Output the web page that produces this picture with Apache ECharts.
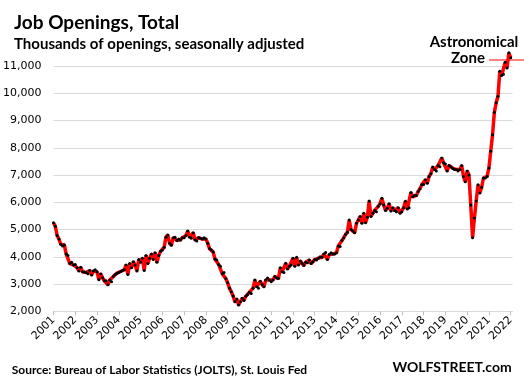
<!DOCTYPE html>
<html><head><meta charset="utf-8">
<script src="https://cdn.jsdelivr.net/npm/echarts@6/dist/echarts.min.js"></script>
<style>html,body{margin:0;padding:0;background:#fff}#c{width:524px;height:391px}</style>
</head><body><div id="c"></div>
<script>
// Tick labels (years)
const years = ['2001','2002','2003','2004','2005','2006','2007','2008','2009','2010','2011',
  '2012','2013','2014','2015','2016','2017','2018','2019','2020','2021','2022'];

// Job openings, thousands, monthly, seasonally adjusted
const openings2001_2004 = [
  5250, 5120, 4780, 4650, 4460, 4400, 4430, 4100, 4050, 3750, 3800, 3700,
  3720, 3600, 3480, 3620, 3450, 3440, 3420, 3380, 3500, 3330, 3480, 3520,
  3450, 3160, 3380, 3230, 3120, 3120, 2970, 3150, 3080, 3280, 3350, 3400,
  3420, 3460, 3500, 3520, 3700, 3350, 3750, 3600, 3820, 3700, 3480, 3900
];
const openings2005_2008 = [
  3800, 3950, 3500, 4050, 3750, 3950, 4100, 3900, 4150, 3800, 4050, 4200,
  4250, 4350, 4720, 4800, 4500, 4420, 4700, 4720, 4600, 4650, 4620, 4700,
  4700, 4780, 4950, 4720, 4680, 4880, 4620, 4580, 4700, 4680, 4650, 4700,
  4650, 4500, 4300, 4250, 4180, 3920, 3880, 3720, 3650, 3380, 3420, 3200
];
const openings2009_2012 = [
  3050, 2850, 2720, 2560, 2350, 2450, 2230, 2350, 2480, 2400, 2550, 2620,
  2700, 2650, 2850, 3150, 2900, 2850, 3100, 2980, 2900, 3150, 3220, 3150,
  3080, 3150, 3280, 3220, 3200, 3600, 3450, 3420, 3760, 3550, 3650, 3700,
  3950, 3650, 3980, 3700, 3850, 3760, 3680, 3800, 3780, 3880, 3750, 3820
];
const openings2013_2016 = [
  3900, 3880, 3950, 4000, 3980, 4100, 4160, 3900, 4080, 4150, 4100, 4100,
  4150, 4400, 4380, 4600, 4700, 4820, 4900, 5350, 5000, 4950, 4880, 5230,
  5350, 5480, 5230, 5600, 5250, 5450, 6050, 5480, 5600, 5700, 5650, 5850,
  5950, 6150, 5900, 5700, 5780, 5950, 5680, 5800, 5700, 5650, 5800, 5600
];
const openings2017_2022 = [
  5650, 5800, 6040, 5750, 5800, 6360, 6200, 6250, 6250, 6400, 6500, 6640,
  6650, 6830, 6700, 6950, 7050, 7290, 7200, 7150, 7350, 7300, 7625, 7450,
  7400, 7150, 7350, 7300, 7250, 7200, 7200, 7150, 7200, 7350, 6950, 6750,
  7150, 7000, 5900, 4700, 5420, 6050, 6640, 6340, 6550, 6890, 6890, 6950,
  7260, 7870, 8480, 9300, 9650, 9890, 10810, 10650, 10700, 11140, 10930, 11485,
  11300
];
const yTicks = [2000, 11000, 1000]; // min, max, step

const values = openings2001_2004.concat(openings2005_2008, openings2009_2012, openings2013_2016, openings2017_2022);
const categories = [];
years.forEach(y => { for (let m = 1; m <= 12; m++) categories.push(y + '-' + (m < 10 ? '0' + m : m)); });
categories.length = values.length + 1; // axis runs one month past the last value

const FONT = 'DejaVu Sans';
const TFONT = 'Lato';
const chart = echarts.init(document.getElementById('c'), null, {renderer: 'canvas'});
chart.setOption({
  animation: false,
  backgroundColor: '#ffffff',
  grid: {left: 52.3, right: 11.5, top: 66, bottom: 79.7, containLabel: false},
  xAxis: {
    type: 'category', data: categories, boundaryGap: false,
    axisLine: {lineStyle: {color: '#d9d9d9', width: 1}},
    axisTick: {interval: i => i % 12 === 0, length: 4, lineStyle: {color: '#bfbfbf'}},
    axisLabel: {interval: i => i % 12 === 0, rotate: 45, margin: 7, color: '#000',
      fontFamily: FONT, fontSize: 11, formatter: v => v.slice(0, 4)},
    splitLine: {show: false}
  },
  yAxis: {
    type: 'value', min: yTicks[0], max: yTicks[1], interval: yTicks[2],
    axisLine: {show: false}, axisTick: {show: false},
    splitLine: {lineStyle: {color: '#d9d9d9', width: 1}},
    axisLabel: {margin: 12, color: '#000', fontFamily: FONT, fontSize: 11,
      formatter: v => v.toLocaleString('en-US')}
  },
  series: [{
    type: 'line', data: values, clip: false,
    symbol: 'circle', symbolSize: 3, showAllSymbol: true,
    itemStyle: {color: '#000'},
    lineStyle: {color: '#ff0000', width: 3.5},
    z: 3
  }],
  graphic: [
    {type: 'text', left: 14, top: 13, style: {text: 'Job Openings, Total', fill: '#000',
      font: 'bold 19px ' + TFONT}},
    {type: 'text', left: 14, top: 37, style: {text: 'Thousands of openings, seasonally adjusted', fill: '#000',
      font: 'bold 15px ' + TFONT}},
    {type: 'text', x: 474, y: 42, style: {text: 'Astronomical', fill: '#000', align: 'center', verticalAlign: 'middle',
      font: 'bold 15px ' + TFONT}},
    {type: 'text', x: 468, y: 58.5, style: {text: 'Zone', fill: '#000', align: 'center', verticalAlign: 'middle',
      font: 'bold 15px ' + TFONT}},
    {type: 'line', shape: {x1: 489, y1: 60, x2: 524, y2: 60}, style: {stroke: '#ff0000', lineWidth: 1}, z: 10},
    {type: 'text', x: 11.7, y: 370, style: {text: 'Source: Bureau of Labor Statistics (JOLTS), St. Louis Fed', fill: '#000',
      verticalAlign: 'middle', font: 'bold 12px ' + TFONT}},
    {type: 'text', x: 511.7, y: 367, style: {text: 'WOLFSTREET.com', fill: '#000', align: 'right',
      verticalAlign: 'middle', font: 'bold 14px ' + TFONT}}
  ]
});
</script></body></html>
